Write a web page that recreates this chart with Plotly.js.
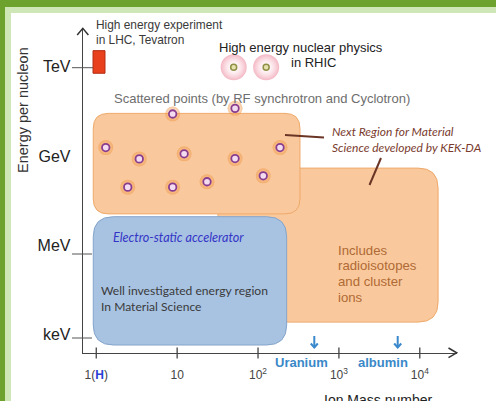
<!DOCTYPE html>
<html>
<head>
<meta charset="utf-8">
<script src="https://cdn.plot.ly/plotly-3.0.1.min.js"></script>
<style>html,body{margin:0;padding:0;background:#fff;overflow:hidden;}#chart{width:496px;height:401px;overflow:hidden;}</style>
</head>
<body>
<div id="chart"></div>
<script>
// ---- data ----
const tickMass = [1, 10, 100, 1000, 10000];
const tickText = ['1(<b><span style="color:#2b3fd4">H</span></b>)', '10', '10<sup>2</sup>', '10<sup>3</sup>', '10<sup>4</sup>'];
const energyLogEV = [3, 6, 9, 12];
const energyLabels = ['keV', 'MeV', 'GeV', 'TeV'];

// scattered points (RF synchrotron & cyclotron)
const rfMass = [8.8, 52, 1.31, 3.4, 12.2, 52, 187, 2.45, 8.8, 23.4, 116];
const rfLogE = [10.41, 10.60, 9.28, 8.90, 9.07, 8.91, 9.28, 7.95, 7.95, 8.13, 8.33];
// RHIC points
const rhicMass = [50, 126];
const rhicLogE = [11.98, 11.98];
// LHC / Tevatron block
const lhcMass = [0.912, 1.282];
const lhcLogE = [11.78, 12.54];
// regions
const electroMass = [0.918, 226];
const electroLogE = [2.64, 6.955];
const rfRegionMass = [0.918, 330];
const rfRegionLogE = [7.05, 10.43];
const kekMass = [32, 16830];
const kekLogE = [3.41, 8.59];

// ---- layout geometry ----
const ML = 83, MT = 28, PW = 374, PH = 325;
const xRange = [-0.164, 4.460];
const yRange = [2.371, 13.302];
const px = x => (x - ML) / PW;
const py = y => (MT + PH - y) / PH;
const lg = v => Math.log10(v);

function roundRect(mass, logE, r, fill, line) {
  const x0 = lg(mass[0]), x1 = lg(mass[1]), y0 = logE[0], y1 = logE[1];
  const rx = r * (xRange[1] - xRange[0]) / PW, ry = r * (yRange[1] - yRange[0]) / PH;
  const p = `M ${x0 + rx},${y0} L ${x1 - rx},${y0} Q ${x1},${y0} ${x1},${y0 + ry} L ${x1},${y1 - ry} Q ${x1},${y1} ${x1 - rx},${y1} L ${x0 + rx},${y1} Q ${x0},${y1} ${x0},${y1 - ry} L ${x0},${y0 + ry} Q ${x0},${y0} ${x0 + rx},${y0} Z`;
  return {type: 'path', xref: 'x', yref: 'y', path: p, fillcolor: fill, line: {color: line, width: 1}, layer: 'below'};
}
function pline(pts, color, width) {
  const p = pts.map((q, i) => (i ? 'L ' : 'M ') + px(q[0]) + ',' + py(q[1])).join(' ');
  return {type: 'path', xref: 'paper', yref: 'paper', path: p, line: {color: color, width: width}, layer: 'above'};
}
function prect(x0, y0, x1, y1, fill, layer) {
  return {type: 'rect', xref: 'paper', yref: 'paper', x0: px(x0), x1: px(x1), y0: py(y1), y1: py(y0), fillcolor: fill, line: {width: 0}, layer: layer || 'below'};
}

const shapes = [
  // frame
  prect(0, 0, 496, 7, '#6ea22f'),
  prect(5, 7, 496, 13, '#cfe7b6'),
  prect(0, 0, 5, 401, '#6ea22f'),
  prect(5, 7, 11, 401, '#cfe7b6'),
  prect(470, 14, 496, 401, '#ffffff', 'above'),
  // regions
  roundRect(kekMass, kekLogE, 20, '#f9c99d', '#eea96a'),
  roundRect(rfRegionMass, rfRegionLogE, 15, '#f9c99d', '#eea96a'),
  roundRect(electroMass, electroLogE, 20, '#a8c3e2', '#84a4cb'),
  prect(105, 225, 263.3, 247.3, '#ffffff'),
  // LHC block
  {type: 'rect', xref: 'x', yref: 'y', x0: lg(lhcMass[0]), x1: lg(lhcMass[1]), y0: lhcLogE[0], y1: lhcLogE[1],
   fillcolor: '#e8401c', line: {color: '#b32b10', width: 1}, layer: 'below'},
  // axis arrows
  pline([[77.2, 35], [82.8, 28.3], [88.4, 35]], '#333', 1.5),
  pline([[448.5, 348], [456.7, 352.8], [448.5, 357.6]], '#333', 1.5),
  // y tick lines
  pline([[72, 67.7], [93, 67.7]], '#555', 1),
  pline([[72, 254], [92, 254]], '#555', 1),
  pline([[72, 338], [92, 338]], '#555', 1),
  // pointer lines
  pline([[285, 135], [324, 137.5]], '#6b3526', 2),
  pline([[381, 158], [369.5, 185]], '#6b3526', 2),
  // down arrows
  pline([[314.3, 336], [314.3, 347.5]], '#3a88cc', 2),
  pline([[310.8, 343.5], [314.3, 347.5], [317.8, 343.5]], '#3a88cc', 2),
  pline([[397.7, 336], [397.7, 347.5]], '#3a88cc', 2),
  pline([[394.2, 343.5], [397.7, 347.5], [401.2, 343.5]], '#3a88cc', 2)
];

const SANS = 'Liberation Sans, Arial, sans-serif';
const LATO = 'Lato, sans-serif';
function ann(text, x, y, opts) {
  return Object.assign({text: text, xref: 'paper', yref: 'paper', x: px(x), y: py(y), showarrow: false,
    xanchor: 'center', yanchor: 'middle', align: 'left',
    font: {family: SANS, size: 13, color: '#222'}}, opts || {});
}
const incl = {xanchor: 'left', font: {family: SANS, size: 13.2, color: '#b06a35'}};
const annotations = [
  ann('High energy experiment<br>in LHC, Tevatron', 94, 32, {xanchor: 'left', font: {family: SANS, size: 11.9, color: '#3a3a3a'}}),
  ann('High energy nuclear physics', 300.5, 47),
  ann('in RHIC', 314, 63),
  ann('Scattered points (by RF synchrotron and Cyclotron)', 261.5, 98, {font: {family: SANS, size: 13, color: '#6e6e6e'}}),
  ann('<i>Next Region for Material<br>Science developed by KEK-DA</i>', 330, 139, {xanchor: 'left', font: {family: LATO, size: 12, color: '#7a3b2e'}}),
  ann('Includes', 335.5, 250, incl),
  ann('radioisotopes', 335.5, 265.7, incl),
  ann('and cluster', 335.5, 281.3, incl),
  ann('ions', 335.5, 297, incl),
  ann('<i>Electro-static accelerator</i>', 110.5, 238, {xanchor: 'left', font: {family: LATO, size: 12.6, color: '#3434c6'}}),
  ann('Well investigated energy region<br>In Material Science', 98.5, 298, {xanchor: 'left', font: {family: LATO, size: 12.1, color: '#3a3a3a'}}),
  ann('<b>Uranium</b>', 301.7, 362, {font: {family: SANS, size: 13, color: '#3a88c8'}}),
  ann('<b>albumin</b>', 383, 362, {font: {family: SANS, size: 13, color: '#3a88c8'}}),
  ann('Energy per nucleon', 23, 110, {textangle: -90, font: {family: SANS, size: 14.5, color: '#333'}}),
  ann('Ion Mass number', 378, 399.5, {font: {family: SANS, size: 14, color: '#222'}})
];

const traces = [
  // RHIC glow + points
  {type: 'scatter', mode: 'markers', x: rhicMass.map(lg), y: rhicLogE, cliponaxis: false, hoverinfo: 'skip',
   marker: {size: 26, color: 'rgba(232,110,135,0.5)', gradient: {type: 'radial', color: 'rgba(255,215,225,0)'}, line: {width: 0}}},
  {type: 'scatter', mode: 'markers', x: rhicMass.map(lg), y: rhicLogE, cliponaxis: false, hoverinfo: 'skip',
   marker: {size: 6, color: '#e6e2b0', line: {color: '#8f8f45', width: 1.5}}},
  // RF points glow + points
  {type: 'scatter', mode: 'markers', x: rfMass.map(lg), y: rfLogE, cliponaxis: false, hoverinfo: 'skip',
   marker: {size: 15, symbol: 'circle', color: 'rgba(240,150,70,0.55)', gradient: {type: 'radial', color: 'rgba(245,175,110,0.05)'}, line: {width: 0}}},
  {type: 'scatter', mode: 'markers', x: rfMass.map(lg), y: rfLogE, cliponaxis: false, hoverinfo: 'skip',
   marker: {size: 7.5, color: '#f3dcef', line: {color: '#8a3c8e', width: 1.8}}},
  // x-axis crossing ticks
  {type: 'scatter', mode: 'markers', x: tickMass.map(lg), y: tickMass.map(() => yRange[0]), cliponaxis: false, hoverinfo: 'skip',
   marker: {symbol: 'line-ns', size: 8, line: {color: '#444', width: 1.3}}}
];

const layout = {
  width: 496, height: 401,
  margin: {l: ML, r: 496 - ML - PW, t: MT, b: 401 - MT - PH, pad: 0},
  paper_bgcolor: '#fff', plot_bgcolor: 'rgba(0,0,0,0)',
  showlegend: false,
  font: {family: SANS, color: '#222'},
  xaxis: {type: 'linear', range: xRange, showgrid: false, zeroline: false, showline: true, linecolor: '#444', linewidth: 1.3,
    tickmode: 'array', tickvals: tickMass.map(lg), ticktext: tickText, ticks: 'outside', ticklen: 10, tickcolor: 'rgba(0,0,0,0)',
    tickfont: {size: 12, color: '#444'}, fixedrange: true},
  yaxis: {type: 'linear', range: yRange, showgrid: false, zeroline: false, showline: true, linecolor: '#444', linewidth: 1.3,
    tickmode: 'array', tickvals: energyLogEV, ticktext: energyLabels, ticks: 'outside', ticklen: 8, tickcolor: 'rgba(0,0,0,0)',
    tickfont: {size: 16, color: '#222'}, fixedrange: true},
  shapes: shapes,
  annotations: annotations
};

Plotly.newPlot('chart', traces, layout, {staticPlot: true, displayModeBar: false});
</script>
</body>
</html>
